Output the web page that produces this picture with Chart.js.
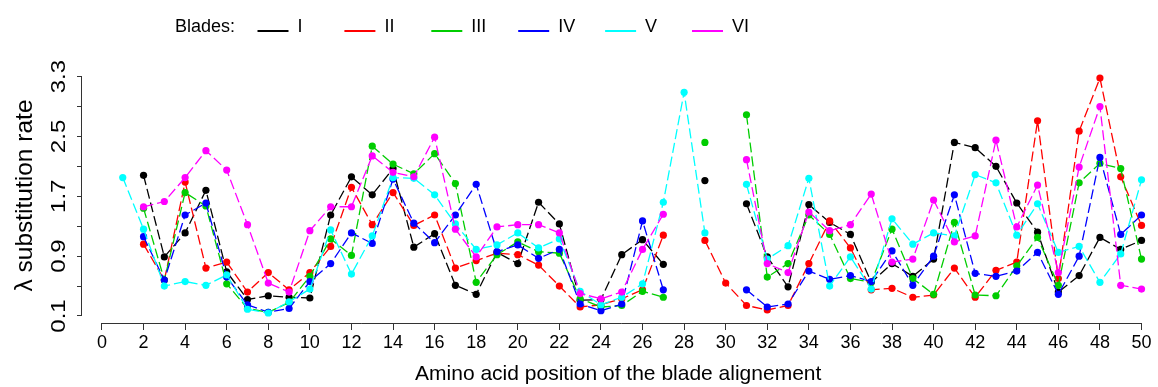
<!DOCTYPE html>
<html><head><meta charset="utf-8">
<script src="https://cdn.jsdelivr.net/npm/chart.js@4/dist/chart.umd.min.js"></script>
<style>html,body{margin:0;padding:0;background:#fff;} #wrap{width:1158px;height:387px;position:relative;}</style>
</head><body><div id="wrap"><canvas id="c" width="1158" height="387"></canvas></div>
<script>
// Amino acid positions (x) of the blade alignment
const positions = [1,2,3,4,5,6,7,8,9,10,11,12,13,14,15,16,17,18,19,20,21,22,23,24,25,26,27,28,29,30,31,32,33,34,35,36,37,38,39,40,41,42,43,44,45,46,47,48,49,50];
const bladeNames = ['I','II','III','IV','V','VI'];
// λ substitution rate per blade
const bladeI   = [null,1.98,0.89,1.21,1.78,0.69,0.32,0.37,0.35,0.34,1.45,1.96,1.72,2.07,1.02,1.20,0.51,0.39,0.95,0.80,1.62,1.33,0.31,0.32,0.92,1.12,0.79,null,1.91,null,1.60,0.89,0.49,1.59,1.35,1.19,0.55,0.80,0.63,0.86,2.42,2.35,2.10,1.61,1.22,0.42,0.64,1.15,0.99,1.11];
const bladeII  = [null,1.06,0.58,1.89,0.74,0.82,0.42,0.68,0.45,0.68,1.03,1.82,1.32,1.75,1.31,1.45,0.74,0.84,0.94,0.92,0.78,0.50,0.22,0.25,0.33,0.45,1.18,null,1.11,0.54,0.24,0.18,0.24,0.80,1.37,1.01,0.45,0.47,0.35,0.38,0.74,0.35,0.71,0.82,2.71,0.60,2.57,3.28,1.96,1.31];
const bladeIII = [null,1.54,0.58,1.75,1.57,0.53,0.20,0.15,0.28,0.63,1.13,0.91,2.37,2.13,2.00,2.27,1.87,0.55,0.92,1.09,0.96,0.94,0.33,0.22,0.24,0.43,0.35,null,2.42,null,2.79,0.62,0.80,1.45,1.19,0.60,0.55,1.26,0.60,0.39,1.35,0.38,0.37,0.77,1.15,0.51,1.88,2.14,2.07,0.86];
const bladeIV  = [null,1.16,0.58,1.45,1.61,0.62,0.25,0.15,0.20,0.56,0.80,1.21,1.07,1.93,1.34,1.08,1.45,1.86,0.96,1.05,0.87,0.99,0.26,0.17,0.26,1.37,0.45,null,null,null,0.45,0.22,0.26,0.70,0.59,0.64,0.56,0.97,0.51,0.90,1.72,0.67,0.63,0.70,0.95,0.39,0.90,2.22,1.19,1.45];
const bladeV   = [1.95,1.26,0.50,0.56,0.51,0.65,0.19,0.14,0.29,0.46,1.25,0.66,1.17,1.95,1.94,1.72,1.33,0.99,1.05,1.21,1.01,1.13,0.43,0.25,0.35,0.53,1.62,3.09,1.21,null,1.86,0.86,1.04,1.94,0.50,0.89,0.46,1.40,1.06,1.21,1.17,1.99,1.88,1.18,1.60,0.95,1.03,0.55,0.93,1.92];
const bladeVI  = [null,1.56,1.63,1.95,2.31,2.05,1.32,0.54,0.42,1.24,1.56,1.56,2.24,2.02,1.96,2.49,1.26,0.89,1.29,1.32,1.32,1.21,0.40,0.33,0.42,0.99,1.46,null,null,null,2.19,0.80,0.68,1.49,1.24,1.32,1.73,0.82,0.86,1.65,1.09,1.17,2.45,1.29,1.85,0.68,2.09,2.90,0.51,0.46];
const xTickValues = [0,2,4,6,8,10,12,14,16,18,20,22,24,26,28,30,32,34,36,38,40,42,44,46,48,50];
const yTickValues = [0.1,0.5,0.9,1.3,1.7,2.1,2.5,2.9,3.3];
const yTickLabels = ['0.1','','0.9','','1.7','','2.5','','3.3'];

const seriesValues = [bladeI, bladeII, bladeIII, bladeIV, bladeV, bladeVI];
const colors = ['#000000','#FF0000','#00CD00','#0000FF','#00FFFF','#FF00FF'];
const FONT = "'Liberation Sans', Arial, Helvetica, sans-serif";

const datasets = seriesValues.map((vals, i) => ({
  label: bladeNames[i],
  data: positions.map((p, k) => ({x: p, y: vals[k]})),
  borderColor: colors[i],
  backgroundColor: colors[i],
  pointBackgroundColor: colors[i],
  pointBorderWidth: 0,
  pointRadius: 3.6,
  pointHoverRadius: 3.6,
  borderWidth: 1.3,
  borderDash: [10, 4],
  tension: 0,
  spanGaps: false,
  order: 5 - i
}));

const axisLines = {
  id: 'axisLines',
  afterDraw(chart) {
    const ctx = chart.ctx, xs = chart.scales.x, ys = chart.scales.y;
    ctx.save();
    ctx.strokeStyle = '#333';
    ctx.lineWidth = 1;
    const by = Math.round(chart.chartArea.bottom) + 0.5;
    ctx.beginPath();
    ctx.moveTo(xs.getPixelForValue(xTickValues[0]), by);
    ctx.lineTo(xs.getPixelForValue(xTickValues[xTickValues.length-1]), by);
    ctx.stroke();
    const lx = Math.round(chart.chartArea.left) - 0.5;
    ctx.beginPath();
    ctx.moveTo(lx, ys.getPixelForValue(yTickValues[0]));
    ctx.lineTo(lx, ys.getPixelForValue(yTickValues[yTickValues.length-1]));
    ctx.stroke();
    // rotated y tick labels
    ctx.fillStyle = '#000';
    ctx.font = '24px ' + FONT;
    ctx.textAlign = 'center';
    ctx.textBaseline = 'alphabetic';
    yTickValues.forEach((v, i) => {
      if (!yTickLabels[i]) return;
      ctx.save();
      ctx.translate(65, ys.getPixelForValue(v));
      ctx.rotate(-Math.PI/2);
      ctx.scale(1, 0.88);
      ctx.fillText(yTickLabels[i], 0, 0);
      ctx.restore();
    });
    // legend
    ctx.textAlign = 'left';
    ctx.font = '18px ' + FONT;
    ctx.fillText('Blades:', 175, 32);
    bladeNames.forEach((n, i) => {
      const x0 = 257.5 + i * 86.9;
      ctx.strokeStyle = colors[i];
      ctx.lineWidth = 2;
      ctx.beginPath();
      ctx.moveTo(x0, 31);
      ctx.lineTo(x0 + 31, 31);
      ctx.stroke();
      ctx.fillText(n, x0 + 40, 32);
    });
    ctx.restore();
  }
};

new Chart(document.getElementById('c'), {
  type: 'line',
  data: { datasets },
  options: {
    responsive: false,
    animation: false,
    devicePixelRatio: 1,
    layout: { padding: { top: 68, left: 0, right: 0, bottom: 0 } },
    plugins: { legend: { display: false }, tooltip: { enabled: false } },
    scales: {
      x: {
        type: 'linear',
        min: -0.96,
        max: 50.62,
        afterBuildTicks: s => { s.ticks = xTickValues.map(v => ({ value: v })); },
        afterFit: s => { s.height = 64; },
        grid: { display: true, drawOnChartArea: false, drawTicks: true, tickLength: 7, color: '#333', lineWidth: 1 },
        border: { display: false },
        ticks: { font: { family: FONT, size: 18 }, color: '#000', padding: 2, maxRotation: 0, autoSkip: false, callback: v => String(v) },
        title: { display: true, text: 'Amino acid position of the blade alignement', font: { family: FONT, size: 21 }, color: '#000', padding: { top: 0, bottom: 0 } }
      },
      y: {
        type: 'linear',
        min: 0.006,
        max: 3.415,
        afterBuildTicks: s => { s.ticks = yTickValues.map(v => ({ value: v })); },
        afterFit: s => { s.width = 82; },
        grid: { display: true, drawOnChartArea: false, drawTicks: true, tickLength: 5, color: '#333', lineWidth: 1 },
        border: { display: false },
        ticks: { display: false },
        title: { display: true, text: 'λ substitution rate', font: { family: FONT, size: 24.5 }, color: '#000', padding: { top: 11, bottom: 0 } }
      }
    }
  },
  plugins: [axisLines]
});
</script>
</body></html>
